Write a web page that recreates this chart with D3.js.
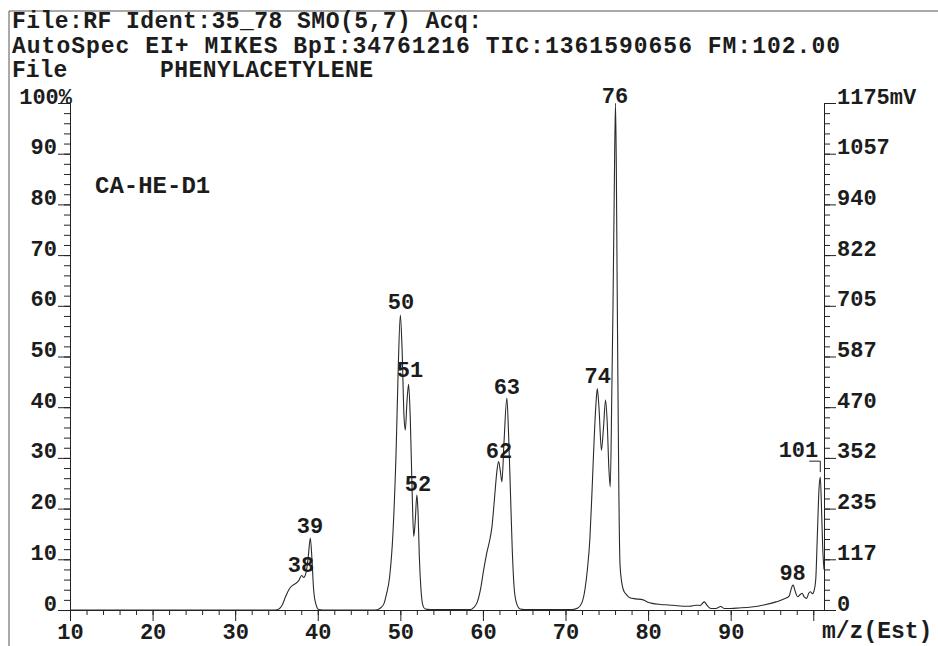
<!DOCTYPE html>
<html>
<head>
<meta charset="utf-8">
<script src="https://cdn.jsdelivr.net/npm/d3@7"></script>
<style>
  body { margin: 0; background: #fff; }
  text { font-family: "Liberation Mono", "DejaVu Sans Mono", monospace; font-weight: bold; fill: #1c1c1c; }
</style>
</head>
<body>
<div id="chart"></div>
<script>
// spectrum trace (m/z, % of base peak)
const mzValues = [
  10, 34.8, 35.3, 35.7, 36.1, 36.5, 36.9, 37.3, 37.7, 38.05, 38.3, 38.6, 38.85, 39.1, 39.3, 39.5, 39.8, 40.1, 40.6,
  47.0, 47.6, 48.0, 48.3, 48.7, 49.1, 49.5, 49.75, 50.0, 50.2, 50.45, 50.6, 50.8, 51.0, 51.2, 51.45, 51.62, 51.8, 52.0, 52.15, 52.3, 52.5, 52.75, 53.0, 53.6,
  58.5, 58.9, 59.3, 59.7, 60.1, 60.5, 60.85, 61.1, 61.4, 61.7, 61.9, 62.1, 62.3, 62.55, 62.9, 63.1, 63.3, 63.55, 63.8, 64.1, 64.5, 65.0,
  70.8, 71.5, 72.0, 72.35, 72.65, 72.95, 73.2, 73.45, 73.7, 73.85, 74.05, 74.35, 74.6, 74.85, 75.05, 75.25, 75.42, 75.6, 75.75, 75.9,
  76.05, 76.15, 76.25, 76.35, 76.45, 76.6, 76.8, 77.0, 77.4, 77.8, 78.5, 79.4, 79.9, 80.5, 81.5, 82.5, 83.5, 85.0, 85.8, 86.3,
  86.8, 87.15, 87.6, 88.2, 88.8, 89.2, 90.0, 91.0, 92.5, 94.0, 95.5, 96.5, 97.1, 97.3, 97.55, 97.85, 98.1, 98.4, 98.65, 98.9,
  99.2, 99.45, 99.65, 99.9, 100.1, 100.3, 100.5, 100.7, 100.85, 101.0, 101.15, 101.3
];
const intensity = [
  0, 0, 0.2, 1.0, 2.6, 4.0, 4.8, 5.2, 5.8, 6.8, 6.4, 7.5, 10.5, 14.2, 10, 4, 1.0, 0.1, 0,
  0, 0.4, 1.2, 3, 6.5, 15, 32, 48, 58.2, 52, 38, 35.5, 41, 44.5, 38, 22, 14.5, 17.5, 22.7, 19, 10.5, 4, 0.8, 0.2, 0.1,
  0.1, 0.5, 1.5, 4, 8, 11.5, 14, 16.5, 22, 27.5, 29.3, 27.5, 25.3, 33, 41.8, 35, 25, 12, 4, 1.2, 0.2, 0.1,
  0.1, 0.4, 1.5, 4, 8, 14, 23, 33, 41, 43.7, 40, 31.5, 36, 41.4, 37, 28, 24.3, 42, 60, 82,
  100, 88, 65, 44, 25, 9, 5.5, 4.0, 3.0, 2.4, 2.2, 2.0, 1.6, 1.3, 1.1, 1.0, 0.85, 0.75, 0.95, 0.9,
  1.6, 0.9, 0.3, 0.3, 0.7, 0.3, 0.3, 0.4, 0.6, 1.0, 1.6, 2.2, 2.8, 4.0, 4.9, 3.5, 2.6, 3.0, 3.3, 2.6,
  2.3, 3.3, 3.6, 3.2, 3.8, 6, 15, 24, 26.2, 20, 12, 8
];

// labelled peaks
const peakNames = ["38", "39", "50", "51", "52", "62", "63", "74", "76", "98"];
const peakMz = [37.97, 39.06, 50.07, 51.16, 52.13, 61.94, 62.9, 73.9, 75.98, 97.5];
const peakTop = [7.5, 15.2, 59.4, 46, 23.5, 30, 42.6, 44.8, 100, 5.9];
const edgePeak = { name: "101", mz: 100.85, top: 26.2 };

const xMajor = [10, 20, 30, 40, 50, 60, 70, 80, 90, 100];
const xLabels = ["10", "20", "30", "40", "50", "60", "70", "80", "90", ""];
const yMajor = [0, 10, 20, 30, 40, 50, 60, 70, 80, 90, 100];
const leftLabels = ["0", "10", "20", "30", "40", "50", "60", "70", "80", "90", "100%"];
const rightLabels = ["0", "117", "235", "352", "470", "587", "705", "822", "940", "1057", "1175mV"];

const headerLines = [
  "File:RF Ident:35_78 SMO(5,7) Acq:",
  "AutoSpec EI+ MIKES BpI:34761216 TIC:1361590656 FM:102.00"
];

const [W, H] = [938, 646];
const svg = d3.select('#chart').append('svg')
  .attr('width', W).attr('height', H);

const x = d3.scaleLinear().domain([10, 101.3]).range([70, 824]);
const y = d3.scaleLinear().domain([0, 100]).range([610, 103]);

// page frame
svg.append('path')
  .attr('d', 'M9,646V11H938')
  .attr('fill', 'none').attr('stroke', '#555').attr('stroke-width', 1);

// header
svg.append('text').attr('x', 12).attr('y', 28).style('font-size', '23px')
  .attr('textLength', 470).attr('lengthAdjust', 'spacing').text(headerLines[0]);
svg.append('text').attr('x', 12).attr('y', 53).style('font-size', '23px')
  .attr('textLength', 828).attr('lengthAdjust', 'spacing').text(headerLines[1]);
svg.append('text').attr('x', 12).attr('y', 77).style('font-size', '23px').text('File');
svg.append('text').attr('x', 160).attr('y', 77).style('font-size', '23px')
  .attr('textLength', 213).attr('lengthAdjust', 'spacing').text('PHENYLACETYLENE');

function styleAxis(g) {
  g.select('.domain').attr('stroke', '#222');
  g.selectAll('.tick line').attr('stroke', '#222');
  g.selectAll('text').style('font-size', '22px').attr('fill', '#1c1c1c');
}

// x axis
const minor2 = d3.range(10, 101, 2);
svg.append('g').attr('transform', 'translate(0,610)')
  .call(d3.axisBottom(x).tickValues(minor2).tickSize(5).tickFormat('').tickSizeOuter(0))
  .call(styleAxis);
svg.append('g').attr('transform', 'translate(0,610)')
  .call(d3.axisBottom(x).tickValues(xMajor).tickSize(11).tickSizeOuter(0)
    .tickFormat((d, i) => xLabels[i]))
  .call(styleAxis)
  .call(g => g.selectAll('text').attr('y', 29).attr('dy', 0));

// left axis
const yMinor = d3.range(0, 101, 2);
svg.append('g').attr('transform', 'translate(70,0)')
  .call(d3.axisLeft(y).tickValues(yMinor).tickSize(6).tickFormat('').tickSizeOuter(0))
  .call(styleAxis);
svg.append('g').attr('transform', 'translate(70,0)')
  .call(d3.axisLeft(y).tickValues(yMajor).tickSize(12).tickPadding(1).tickSizeOuter(0)
    .tickFormat((d, i) => leftLabels[i]))
  .call(styleAxis)
  .call(g => g.selectAll('text').attr('dy', 0)
    .filter(d => d === 100).attr('x', 2));

// right axis
svg.append('g').attr('transform', 'translate(824,0)')
  .call(d3.axisRight(y).tickValues(yMinor).tickSize(6).tickFormat('').tickSizeOuter(0))
  .call(styleAxis);
svg.append('g').attr('transform', 'translate(824,0)')
  .call(d3.axisRight(y).tickValues(yMajor).tickSize(12).tickPadding(1).tickSizeOuter(0)
    .tickFormat((d, i) => rightLabels[i]))
  .call(styleAxis)
  .call(g => g.selectAll('text').attr('dy', 0));

svg.append('text').attr('x', 822).attr('y', 638).style('font-size', '23px').text('m/z(Est)');
svg.append('text').attr('x', 95).attr('y', 193).style('font-size', '24px').text('CA-HE-D1');

// trace
const trace = mzValues.map((m, i) => [m, intensity[i]]);
const line = d3.line()
  .x(d => x(d[0]))
  .y(d => y(d[1]))
  .curve(d3.curveMonotoneX);

svg.append('path')
  .datum(trace)
  .attr('d', line)
  .attr('fill', 'none')
  .attr('stroke', '#2a2a2a')
  .attr('stroke-width', 1.1);

// peak labels
svg.append('g').selectAll('text')
  .data(peakNames)
  .join('text')
  .attr('x', (d, i) => x(peakMz[i]))
  .attr('y', (d, i) => y(peakTop[i]))
  .attr('text-anchor', 'middle')
  .style('font-size', '22px')
  .text(d => d);

// label of the peak at the edge, with its bracket
const ex = x(edgePeak.mz), ey = y(edgePeak.top);
svg.append('text').attr('x', ex - 2).attr('y', ey - 20)
  .attr('text-anchor', 'end').style('font-size', '22px').text(edgePeak.name);
svg.append('path')
  .attr('d', `M${ex - 11},${ey - 16}H${ex}V${ey - 5}`)
  .attr('fill', 'none').attr('stroke', '#222');
</script>
</body>
</html>
